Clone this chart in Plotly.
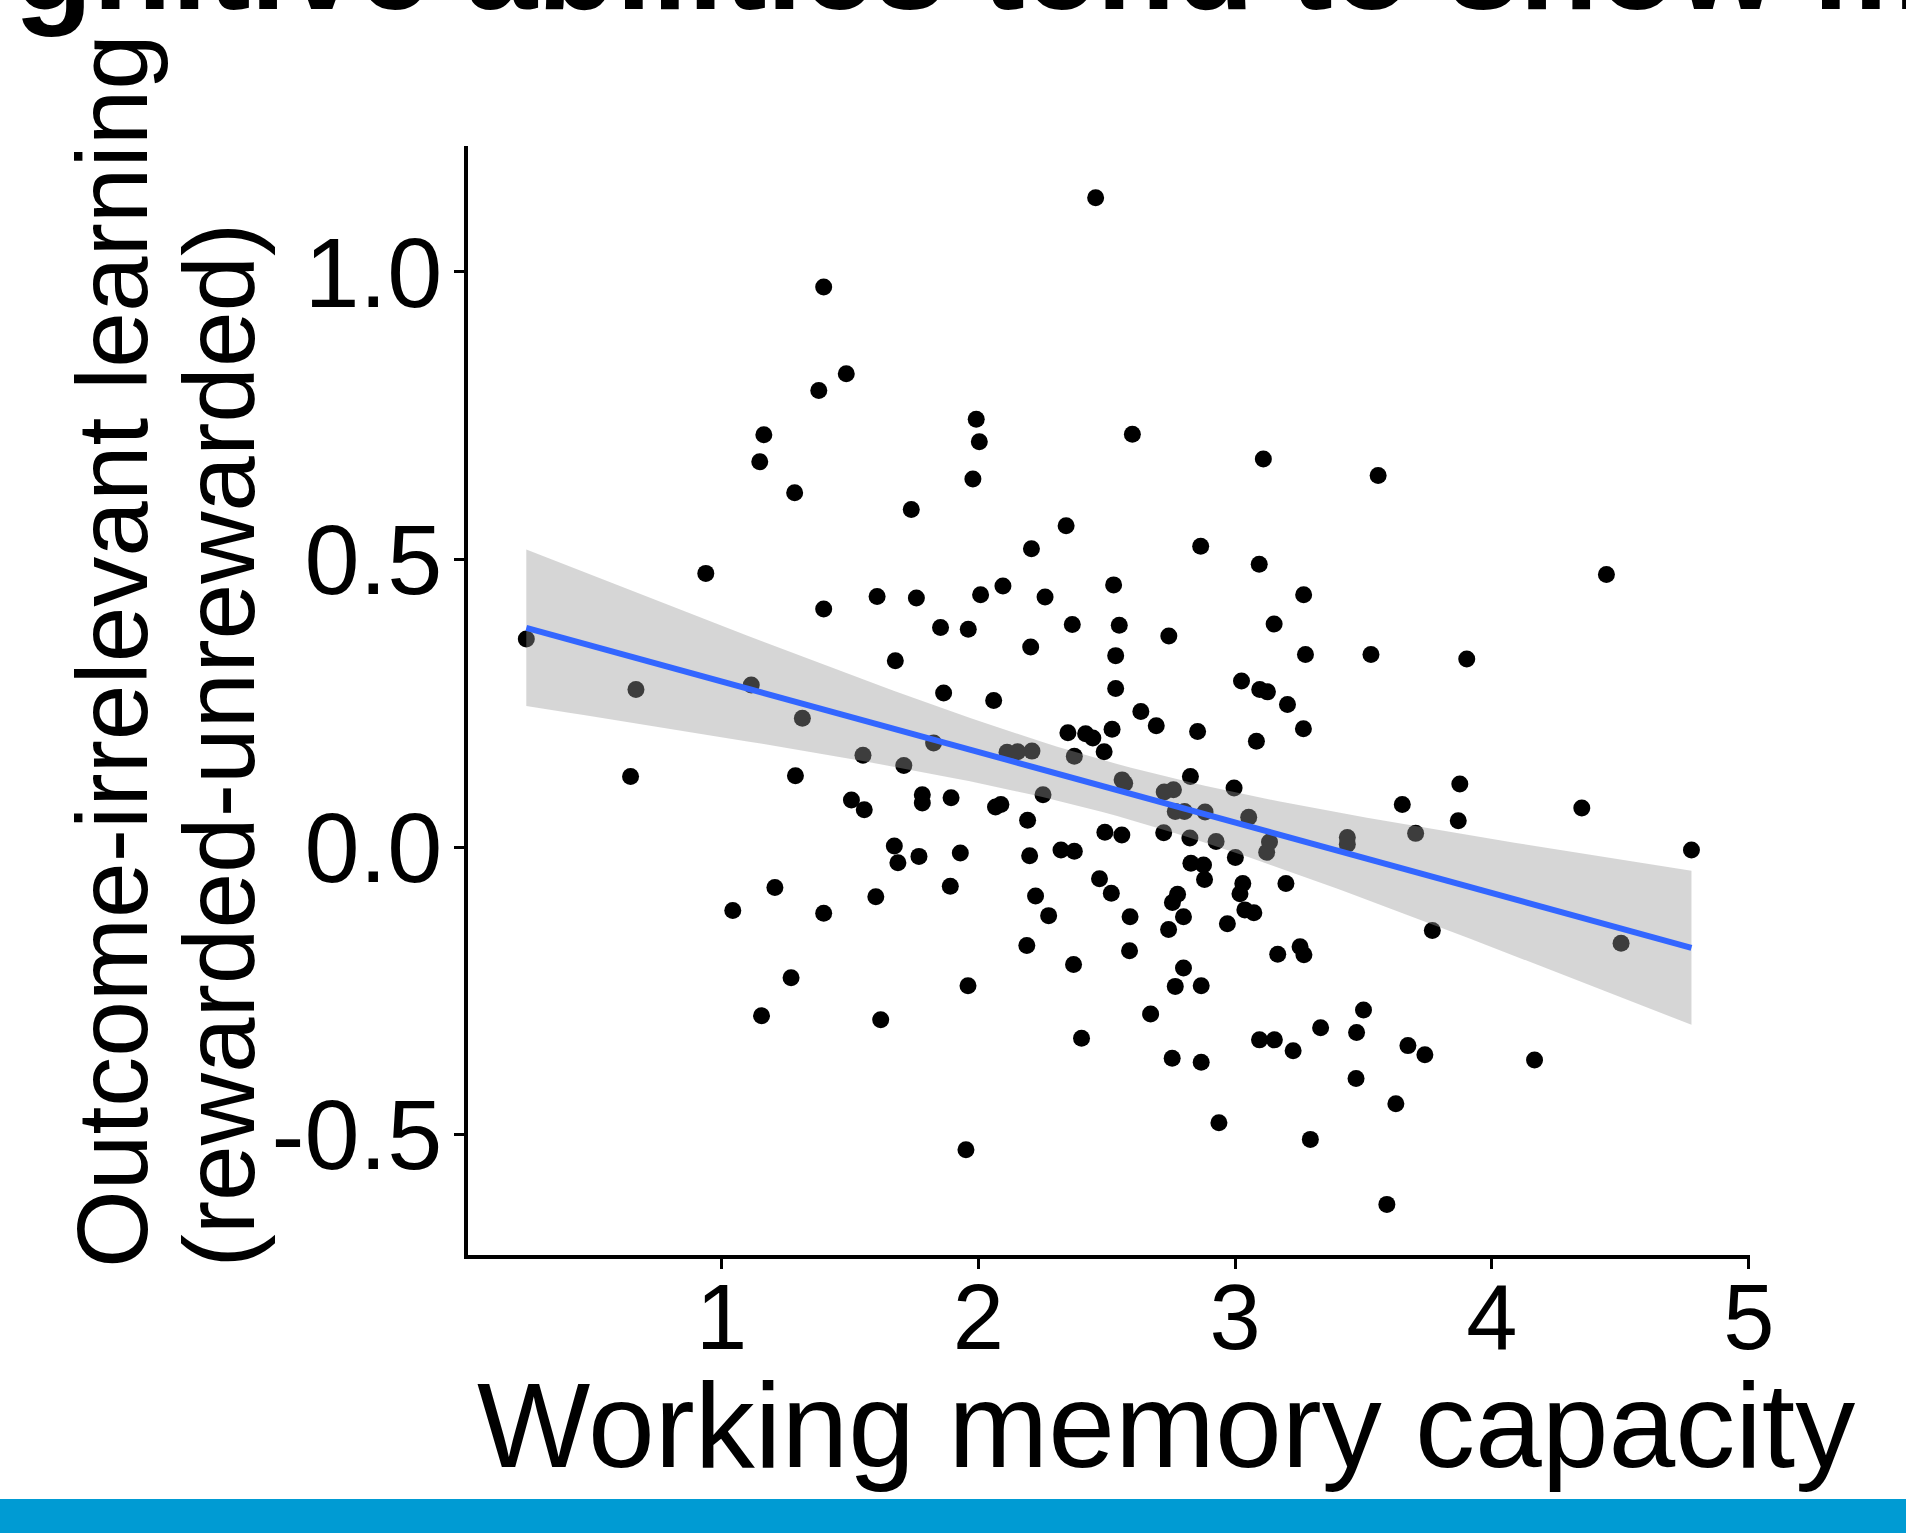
import numpy as np
import plotly.graph_objects as go

# ---- data ----
wm_capacity = [
    2.457, 1.398, 1.486, 1.379, 1.992, 2.004, 1.979, 2.600, 3.110, 3.557, 1.165, 1.149, 1.285, 1.739, 2.342,
    0.939, 1.398, 1.606, 1.759, 1.853, 1.677, 1.865, 0.240, 0.667, 1.116, 1.315, 1.551, 1.710, 1.826, 0.646,
    1.288, 1.506, 1.556, 1.782, 1.782, 1.673, 1.687, 1.769, 1.208, 1.601,
    2.207, 2.866, 3.094, 2.009, 2.096, 2.260, 2.527, 3.267, 1.961, 2.366, 2.549, 2.742, 3.152, 2.204, 2.535,
    3.274, 3.529, 2.060, 2.535, 3.025, 3.096, 3.126, 3.204, 2.633, 2.693, 3.266, 2.854, 2.349, 2.418, 2.446,
    2.521, 3.083, 2.490, 2.112, 2.153, 2.209, 2.374, 2.560, 2.570, 2.826, 2.996, 2.724, 2.760, 3.651, 2.252,
    1.894, 2.067, 2.088, 2.767, 2.803, 2.883, 3.053, 2.192, 3.703, 2.493, 2.559, 2.722, 2.824, 2.926, 3.134,
    3.123, 3.437, 3.437, 3.001, 1.930, 2.200, 2.322, 2.374, 2.828, 2.877, 2.881, 2.472, 3.198, 3.030, 3.019,
    1.891, 2.223, 2.518, 2.776, 2.756,
    2.274, 2.591, 2.799, 2.741, 2.970, 3.038, 3.073, 2.189, 2.589, 2.371, 1.960, 2.799, 2.767, 2.868, 3.166,
    3.253, 3.268, 2.671, 3.500, 3.333, 3.473, 2.402, 3.095, 3.153, 3.226, 3.673, 3.739, 2.755, 2.868, 3.471,
    3.626, 2.937, 3.293, 1.952, 3.591,
    3.768, 4.503, 4.166,
    4.446, 3.902, 3.875, 3.869, 4.350, 4.777,
    1.044, 1.398, 1.271, 1.156, 1.620,
]
outcome_irrelevant = [
    1.129, 0.974, 0.823, 0.794, 0.744, 0.705, 0.640, 0.718, 0.675, 0.646, 0.717, 0.670, 0.616, 0.587, 0.559,
    0.476, 0.414, 0.436, 0.433, 0.382, 0.324, 0.268, 0.362, 0.274, 0.282, 0.224, 0.160, 0.142, 0.181, 0.123,
    0.124, 0.082, 0.065, 0.091, 0.077, 0.002, -0.027, -0.016, -0.070, -0.086,
    0.519, 0.523, 0.492, 0.439, 0.454, 0.435, 0.456, 0.439, 0.379, 0.387, 0.386, 0.367, 0.388, 0.348, 0.333,
    0.335, 0.335, 0.255, 0.276, 0.289, 0.274, 0.270, 0.248, 0.236, 0.211, 0.206, 0.201, 0.199, 0.197, 0.190,
    0.205, 0.184, 0.166, 0.165, 0.166, 0.167, 0.158, 0.117, 0.111, 0.123, 0.103, 0.096, 0.100, 0.074, 0.091,
    0.086, 0.070, 0.074, 0.062, 0.062, 0.061, 0.052, 0.047, 0.024, 0.026, 0.021, 0.025, 0.016, 0.010, 0.009,
    -0.009, 0.017, 0.005, -0.018, -0.010, -0.015, -0.005, -0.007, -0.028, -0.031, -0.056, -0.055, -0.063, -0.063, -0.081,
    -0.068, -0.085, -0.080, -0.082, -0.096,
    -0.119, -0.121, -0.121, -0.143, -0.133, -0.109, -0.114, -0.171, -0.180, -0.204, -0.241, -0.210, -0.242, -0.241, -0.186,
    -0.173, -0.187, -0.290, -0.283, -0.314, -0.322, -0.332, -0.335, -0.335, -0.354, -0.345, -0.361, -0.367, -0.374, -0.402,
    -0.446, -0.479, -0.508, -0.526, -0.621,
    -0.145, -0.167, -0.370,
    0.474, 0.327, 0.110, 0.046, 0.068, -0.005,
    -0.110, -0.115, -0.227, -0.293, -0.300,
]
assert len(wm_capacity) == len(outcome_irrelevant)

x_ticks = [1, 2, 3, 4, 5]
y_ticks = [-0.5, 0.0, 0.5, 1.0]
y_tick_labels = ["-0.5", "0.0", "0.5", "1.0"]

title_text = "Cognitive abilities tend to show more"
x_title = "Working memory capacity"
y_title_1 = "Outcome-irrelevant learning"
y_title_2 = "(rewarded-unrewarded)"

# ---- linear fit with 95% confidence band (as geom_smooth(method="lm")) ----
x = np.array(wm_capacity)
y = np.array(outcome_irrelevant)
n = len(x)
slope, intercept = np.polyfit(x, y, 1)
resid = y - (intercept + slope * x)
s = np.sqrt(np.sum(resid ** 2) / (n - 2))
sxx = np.sum((x - x.mean()) ** 2)
t_crit = 1.974  # t(0.975, df ~ 167)
xg = np.linspace(x.min(), x.max(), 80)
yg = intercept + slope * xg
se = s * np.sqrt(1.0 / n + (xg - x.mean()) ** 2 / sxx)
upper = yg + t_crit * se
lower = yg - t_crit * se

FONT = "Liberation Sans, Arial, Helvetica, sans-serif"

fig = go.Figure()
fig.add_trace(go.Scatter(
    x=wm_capacity, y=outcome_irrelevant, mode="markers",
    marker=dict(size=17, color="black", line=dict(width=0)),
    showlegend=False, hoverinfo="skip"))
fig.add_trace(go.Scatter(
    x=np.concatenate([xg, xg[::-1]]), y=np.concatenate([upper, lower[::-1]]),
    mode="lines", fill="toself", fillcolor="rgba(153,153,153,0.4)",
    line=dict(width=0), showlegend=False, hoverinfo="skip"))
fig.add_trace(go.Scatter(
    x=xg, y=yg, mode="lines", line=dict(color="#3366FF", width=6),
    showlegend=False, hoverinfo="skip"))

L, R, T, B = 468, 156, 146, 278
W, H = 1906, 1533
pw, ph = W - L - R, H - T - B


def px(v):
    return (v - L) / pw


def py(v):
    return (H - B - v) / ph


fig.update_layout(
    width=W, height=H, autosize=False,
    margin=dict(l=L, r=R, t=T, b=B, pad=0),
    paper_bgcolor="white", plot_bgcolor="white",
    font=dict(family=FONT, color="black"),
    xaxis=dict(range=[0.013, 5.005], tickvals=x_ticks, ticktext=[str(v) for v in x_ticks],
               showgrid=False, zeroline=False, showline=True, linecolor="black", linewidth=4,
               ticks="outside", ticklen=10, tickwidth=3, tickcolor="black",
               tickfont=dict(size=92, family=FONT, color="black"), ticklabelstandoff=-30),
    yaxis=dict(range=[-0.709, 1.219], tickvals=y_ticks, ticktext=y_tick_labels,
               showgrid=False, zeroline=False, showline=True, linecolor="black", linewidth=4,
               ticks="outside", ticklen=10, tickwidth=3, tickcolor="black",
               tickfont=dict(size=99, family=FONT, color="black"), ticklabelstandoff=-8),
    shapes=[dict(type="rect", xref="paper", yref="paper", x0=-0.5, x1=1.3,
                 y0=-0.35, y1=py(1499), fillcolor="#009BD3", line=dict(width=0), layer="below")],
    annotations=[
        dict(text=title_text, xref="paper", yref="paper", x=px(-160), y=py(39),
             xanchor="left", yanchor="bottom", showarrow=False,
             font=dict(size=129, family=FONT, color="black", weight="bold")),
        dict(text=x_title, xref="paper", yref="paper", x=px(1166), y=py(1494),
             xanchor="center", yanchor="bottom", showarrow=False,
             font=dict(size=120, family=FONT, color="black")),
        dict(text=y_title_1, xref="paper", yref="paper", x=px(112), y=py(1270),
             xanchor="center", yanchor="bottom", showarrow=False, textangle=-90,
             font=dict(size=100, family=FONT, color="black")),
        dict(text=y_title_2, xref="paper", yref="paper", x=px(218), y=py(1270),
             xanchor="center", yanchor="bottom", showarrow=False, textangle=-90,
             font=dict(size=100, family=FONT, color="black")),
    ],
)

fig.write_html("out.html", config={"displayModeBar": False},
               post_script="document.body.style.margin='0';")
